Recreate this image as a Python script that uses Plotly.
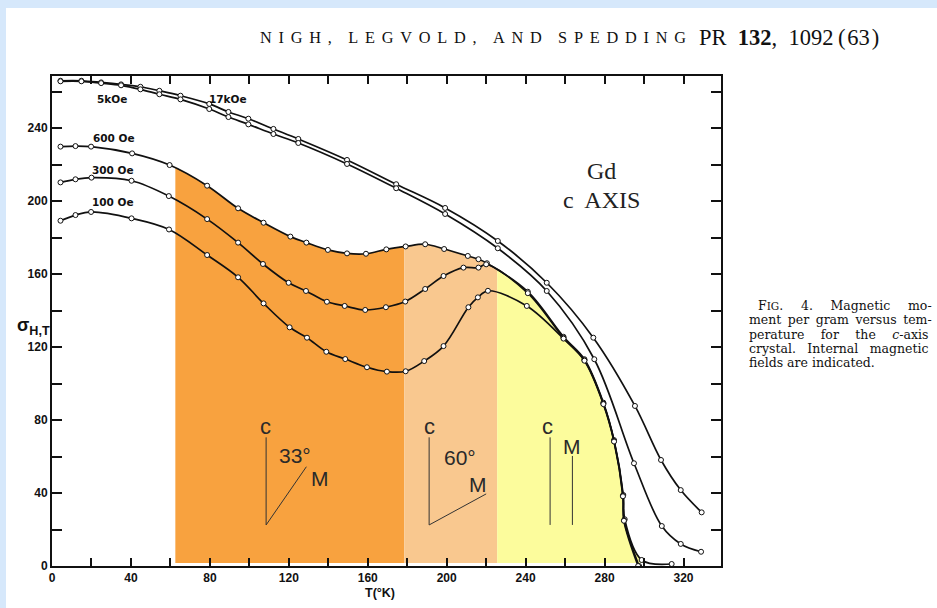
import plotly.graph_objects as go

# ---- magnetic moment per gram (sigma) vs temperature T (K), Gd c-axis crystal ----
t_17k = [4.3, 14.9, 24.9, 35.0, 44.8, 54.4, 65.1, 79.7, 89.4, 99.5, 112.2, 124.8,
         149.5, 174.4, 199.2, 225.9, 250.7, 274.3, 295.4, 308.6, 318.6, 329.2]
s_17k = [265.9, 265.9, 265.0, 263.9, 262.6, 260.4, 257.7, 253.2, 248.8, 245.1, 239.5, 234.0,
         222.5, 209.2, 196.2, 178.1, 155.2, 125.1, 87.7, 58.1, 41.6, 29.4]

t_5k = [4.3, 14.9, 24.9, 35.0, 44.8, 54.4, 65.1, 79.7, 89.4, 99.5, 112.2, 124.8,
        149.5, 174.4, 199.2, 225.9, 250.7, 274.8, 294.9, 309.0, 318.6, 328.9]
s_5k = [265.6, 265.6, 264.6, 263.4, 261.2, 258.5, 255.7, 250.4, 246.0, 242.0, 236.7, 231.8,
        220.3, 207.0, 192.9, 174.1, 150.7, 113.3, 56.3, 21.9, 12.1, 7.8]

t_600 = [4.3, 11.9, 19.8, 40.6, 59.6, 78.6, 94.3, 107.2, 120.8, 128.9, 139.8, 149.5, 159.1,
         169.4, 179.2, 189.1, 198.7, 210.7, 216.1, 220.4, 241.1, 259.2, 269.8, 279.4, 284.8,
         289.5, 290.2, 298.8, 314.0]
s_600 = [229.8, 230.1, 229.8, 226.1, 219.7, 208.4, 196.0, 188.1, 180.5, 177.2, 173.2, 171.3, 171.1,
         173.5, 175.1, 176.3, 173.7, 169.9, 168.1, 165.9, 150.3, 125.6, 113.3, 89.5, 69.0,
         38.9, 25.6, 3.3, 1.1]

t_300 = [4.3, 11.9, 20.0, 40.3, 59.2, 78.6, 94.3, 106.9, 119.9, 128.7, 139.3, 148.3, 158.7,
         169.2, 179.0, 189.1, 198.4, 208.5, 216.1, 220.0, 241.1, 259.2, 269.8, 279.4, 284.8,
         289.3, 289.9, 297.5]
s_300 = [210.2, 211.9, 212.8, 211.1, 202.7, 190.1, 177.2, 165.5, 155.2, 150.7, 144.8, 142.5, 140.3,
         141.8, 144.9, 151.8, 158.9, 163.5, 163.5, 165.3, 149.5, 125.0, 112.8, 89.0, 68.5,
         38.5, 25.0, 0.0]

t_100 = [4.3, 11.9, 19.8, 40.3, 59.3, 78.6, 94.3, 107.2, 120.4, 129.2, 139.0, 148.6, 159.6,
         169.7, 179.2, 188.6, 198.4, 211.0, 215.8, 220.9, 240.6, 259.2, 269.8, 279.4, 284.8,
         289.3, 289.8, 297.0]
s_100 = [189.2, 192.3, 194.0, 190.5, 184.4, 170.4, 158.2, 143.9, 130.8, 125.1, 117.4, 113.4, 108.9,
         106.5, 106.7, 112.3, 120.5, 141.8, 147.2, 150.8, 142.5, 124.6, 112.5, 88.7, 68.2,
         38.2, 24.8, 0.0]

# temperature bands of the moment direction (angle between c axis and M)
band_edges = [62.5, 178.5, 225.6, 300.0]
band_colors = ["#F8A23F", "#F9C88F", "#FCFC9C"]

x_ticks = list(range(0, 321, 20))
x_labels = [str(v) if v % 40 == 0 else "" for v in x_ticks]
y_ticks = list(range(0, 261, 20))
y_labels = [str(v) if v % 40 == 0 else "" for v in y_ticks]

curve_labels = [("5kOe", 30.5, 255.7), ("17kOe", 89.4, 255.9), ("600 Oe", 31.5, 234.4),
                ("300 Oe", 31.1, 217.0), ("100 Oe", 31.1, 199.6)]

# caption, set as justified lines (extra word spacing per line)
EN, TH, HR = "\u2002", "\u2009", "\u200a"
caption_words = [["F<span style='font-size:10.5px'>IG</span>.", "4.", "Magnetic", "mo-"],
                 ["ment", "per", "gram", "versus", "tem-"],
                 ["perature", "for", "the", "<i>c</i>-axis"],
                 ["crystal.", "Internal", "magnetic"],
                 ["fields", "are", "indicated."]]
caption_gaps = [" " + EN + EN + HR, " " + TH, " " + EN + EN, " " + EN + HR, " "]
caption_lines = [gap.join(ws) for ws, gap in zip(caption_words, caption_gaps)]

W, H = 937, 608
ML, MR, MT, MB = 52, 216, 76, 42
X_MAX, Y_MAX = 339, 268.5


def px(xp):
    return (xp - ML) / (W - ML - MR)


def py(yp):
    return (H - MB - yp) / (H - MT - MB)


fig = go.Figure()

# white mask above the 600 Oe curve so the coloured bands stop at the curve
fig.add_trace(go.Scatter(x=[-5, 345], y=[300, 300], mode="lines",
                         line=dict(width=0, color="rgba(0,0,0,0)"),
                         hoverinfo="skip", showlegend=False))
fig.add_trace(go.Scatter(x=t_600, y=s_600, mode="lines",
                         line=dict(width=0, color="rgba(0,0,0,0)", shape="spline"),
                         fill="tonexty", fillcolor="white",
                         hoverinfo="skip", showlegend=False))

for tx, sy in [(t_17k, s_17k), (t_5k, s_5k), (t_600, s_600), (t_300, s_300), (t_100, s_100)]:
    fig.add_trace(go.Scatter(
        x=tx, y=sy, mode="lines+markers",
        line=dict(color="#111111", width=1.7, shape="spline"),
        marker=dict(symbol="circle", size=5, color="white",
                    line=dict(color="#111111", width=1)),
        hoverinfo="skip", showlegend=False))

shapes = []
# page frame
shapes.append(dict(type="rect", xref="paper", yref="paper", x0=px(0), x1=px(6),
                   y0=py(H), y1=py(0), fillcolor="#D6E8FB", line=dict(width=0), layer="below"))
shapes.append(dict(type="rect", xref="paper", yref="paper", x0=px(0), x1=px(W),
                   y0=py(8), y1=py(0), fillcolor="#D6E8FB", line=dict(width=0), layer="below"))
# coloured temperature bands
for i, col in enumerate(band_colors):
    shapes.append(dict(type="rect", xref="x", yref="y", x0=band_edges[i], x1=band_edges[i + 1],
                       y0=1.6, y1=268, fillcolor=col, line=dict(width=0), layer="below"))

# direction sketches: c axis and moment M
sketch_lines = [(108.5, 70.5, 108.5, 22.5), (108.5, 22.5, 128.9, 54.4),
                (191.1, 70.5, 191.1, 22.5), (191.1, 22.5, 220.0, 39.5),
                (252.4, 70.5, 252.4, 22.5), (263.7, 60.3, 263.7, 22.5)]
for x0, y0, x1, y1 in sketch_lines:
    shapes.append(dict(type="line", xref="x", yref="y", x0=x0, y0=y0, x1=x1, y1=y1,
                       line=dict(color="#333333", width=1)))

annotations = []
sans = "Liberation Sans"
serif = "Liberation Serif"
C = dict(xanchor="center", yanchor="middle", showarrow=False)
for txt, tx, sy in curve_labels:
    annotations.append(dict(x=tx, y=sy, xref="x", yref="y", text=txt, **C,
                            font=dict(family="DejaVu Sans", size=10.5, color="#111111", weight="bold")))

for txt, tx, sy, sz in [("c", 108.1, 76.3, 22), ("33°", 123.3, 60.3, 21), ("M", 135.9, 48.0, 21),
                        ("c", 191.1, 76.3, 22), ("60°", 206.8, 59.6, 21), ("M", 216.1, 44.4, 21),
                        ("c", 251.0, 76.3, 22), ("M", 263.7, 65.4, 21)]:
    annotations.append(dict(x=tx, y=sy, xref="x", yref="y", text=txt, **C,
                            font=dict(family=sans, size=sz, color="#2a2a2a")))

annotations.append(dict(x=278.2, y=216.4, xref="x", yref="y", text="Gd", **C,
                        font=dict(family=serif, size=24, color="#222222")))
annotations.append(dict(x=278.2, y=200.5, xref="x", yref="y", text="c  AXIS", **C,
                        font=dict(family=serif, size=24, color="#222222")))

# axis titles
annotations.append(dict(x=px(15), y=py(326), xref="paper", yref="paper", xanchor="left",
                        yanchor="middle", text="σ<sub>H,T</sub>", showarrow=False,
                        font=dict(family=sans, size=18, color="#111111", weight="bold")))
annotations.append(dict(x=px(380), y=py(593), xref="paper", yref="paper",
                        text="T(°K)", **C, borderpad=0,
                        font=dict(family=sans, size=12.5, color="#111111", weight="bold")))

# running head
words = ["NIGH,", "LEGVOLD,", "AND", "SPEDDING"]
head = "\u2002\u2002".join("\u2004\u200a".join(w) for w in words)
annotations.append(dict(x=px(258), y=py(38), xref="paper", yref="paper", xanchor="left",
                        yanchor="middle", text=head, showarrow=False,
                        font=dict(family=serif, size=16.3, color="#111111")))
annotations.append(dict(x=px(697), y=py(38), xref="paper", yref="paper", xanchor="left",
                        yanchor="middle",
                        text="PR\u2002<b>132</b>,\u20021092\u2009(\u200a63\u200a)", showarrow=False,
                        font=dict(family=serif, size=22.5, color="#111111")))

# caption
for i, line in enumerate(caption_lines):
    annotations.append(dict(x=px(748 + (9 if i == 0 else 0)), y=py(305 + 14.5 * i),
                            xref="paper", yref="paper", xanchor="left", yanchor="middle",
                            text=line, showarrow=False, borderpad=0,
                            font=dict(family="DejaVu Serif", size=12.5, color="#111111")))

axis_common = dict(showline=True, linewidth=2, linecolor="#111111", mirror="ticks",
                   ticks="inside", tickwidth=2, tickcolor="#111111", showgrid=False,
                   zeroline=False,
                   tickfont=dict(family=sans, size=12, color="#111111", weight="bold"))

fig.update_layout(
    width=W, height=H, autosize=False,
    margin=dict(l=ML, r=MR, t=MT, b=MB, pad=0),
    paper_bgcolor="white", plot_bgcolor="white",
    showlegend=False,
    xaxis=dict(range=[0, X_MAX], tickvals=x_ticks, ticktext=x_labels, ticklen=8, **axis_common),
    yaxis=dict(range=[0, Y_MAX], tickvals=y_ticks, ticktext=y_labels, ticklen=10, **axis_common),
    shapes=shapes,
    annotations=annotations,
)

fig.write_html("out.html")
